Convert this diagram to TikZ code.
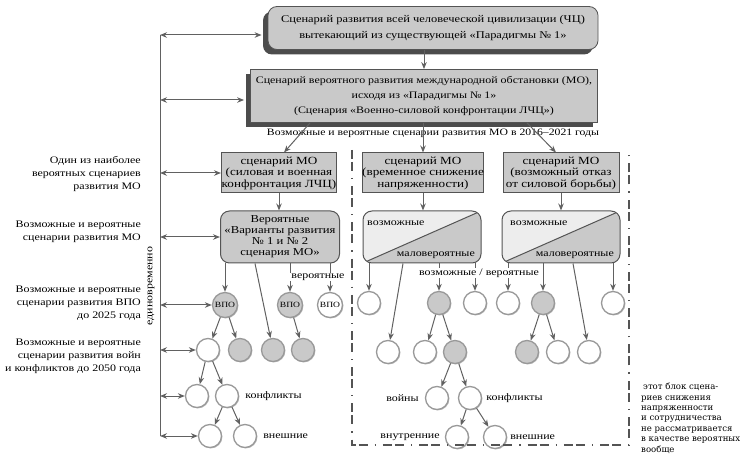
\documentclass[tikz,border=0pt]{standalone}
\usepackage{fontspec}
\setmainfont{Liberation Serif}[FakeStretch=1.2]
\newfontfamily\notefont{DejaVu Serif}
\usetikzlibrary{arrows.meta,shadows}

\definecolor{boxfill}{gray}{0.79}
\definecolor{lightfill}{gray}{0.93}
\definecolor{edge}{gray}{0.33}
\definecolor{shade}{gray}{0.3}
\definecolor{ring}{gray}{0.6}
\definecolor{arrowc}{gray}{0.38}

\begin{document}
\begin{tikzpicture}[x=1bp, y=-1bp,
  arr/.style={draw=arrowc, line width=1bp, -{Stealth[length=7bp,width=5.5bp]}},
  darr/.style={draw=arrowc, line width=1bp,
    {Stealth[length=7bp,width=5.5bp]}-{Stealth[length=7bp,width=5.5bp]}},
  bigbox/.style={draw=edge, fill=boxfill, line width=0.8bp, align=center, inner sep=0pt,
    drop shadow={shadow xshift=-5bp, shadow yshift=-5bp, fill=shade, opacity=1},
    font=\fontsize{10.4}{17}\selectfont},
  mobox/.style={draw=edge, fill=boxfill, line width=1bp, align=center, inner sep=0pt,
    minimum height=40bp, font=\fontsize{11}{11.5}\selectfont},
  varbox/.style={draw=edge, fill=boxfill, line width=1bp, rounded corners=9bp, align=center,
    minimum width=119bp, minimum height=52bp, inner sep=0pt, font=\fontsize{10.6}{11}\selectfont},
  splitbox/.style={draw=edge, fill=lightfill, line width=1bp, rounded corners=9bp,
    minimum width=118bp, minimum height=52bp, inner sep=0pt,
    path picture={
      \fill[boxfill] (path picture bounding box.south west)
        -- (path picture bounding box.north east)
        -- (path picture bounding box.south east) -- cycle;
      \draw[edge, line width=1bp] (path picture bounding box.south west)
        -- (path picture bounding box.north east);}},
  wc/.style={circle, draw=ring, fill=white, line width=1.3bp, minimum size=23bp, inner sep=0pt,
    drop shadow={shadow xshift=0.9bp, shadow yshift=-0.9bp, fill=gray!55, opacity=1}},
  vpo/.style={wc, minimum size=25bp, font=\fontsize{8}{8}\selectfont},
  lbl/.style={inner sep=1bp, font=\fontsize{10}{11}\selectfont},
  side/.style={anchor=east, align=right, inner sep=0pt, font=\fontsize{10}{13}\selectfont},
  fence/.style={draw=edge, line width=1.2bp,
    dash pattern=on 9bp off 3bp on 9bp off 7bp on 1.2bp off 7bp}]

  \useasboundingbox (0,0) rectangle (750,460);

  % civilisation and MO scenarios
  \node[bigbox, rounded corners=9bp, minimum width=330bp, minimum height=43bp] (chc) at (433,28)
    {Сценарий развития всей человеческой цивилизации (ЧЦ)\\
     вытекающий из существующей «Парадигмы № 1»};
  \node[bigbox, minimum width=347bp, minimum height=53bp, font=\fontsize{10}{15}\selectfont]
    (mo) at (424,96)
    {Сценарий вероятного развития международной обстановки (МО),\\
     исходя из «Парадигмы № 1»\\
     (Сценария «Военно-силовой конфронтации ЛЧЦ»)};
  \draw[arr] (mo.north |- chc.south) -- (mo.north);
  \node[lbl, font=\fontsize{9.8}{11}\selectfont] (period) at (433,133)
    {Возможные и вероятные сценарии развития МО в 2016–2021 годы};

  % three MO scenarios
  \node[mobox, minimum width=115bp] (sc1) at (279,173) {сценарий МО\\(силовая и военная\\конфронтация ЛЧЦ)};
  \node[mobox, minimum width=120bp] (sc2) at (423,173) {сценарий МО\\(временное снижение\\напряженности)};
  \node[mobox, minimum width=116bp] (sc3) at (561,173) {сценарий МО\\(возможный отказ\\от силовой борьбы)};
  \draw[arr] ([xshift=-114bp]mo.south) -- ([xshift=5bp]sc1.north);
  \draw[arr] (mo.south -| sc2.north) -- (sc2.north);
  \draw[arr] ([xshift=103bp]mo.south) -- ([xshift=-5bp]sc3.north);

  \node[varbox] (var) at (280,237) {Вероятные\\«Варианты развития\\№ 1 и № 2\\сценария МО»};
  \node[splitbox] (tmp) at (422,237) {};
  \node[splitbox] (ref) at (561,237) {};
  \node[lbl, anchor=west] (tmp-hi) at (366,223) {возможные};
  \node[lbl, anchor=east] (tmp-lo) at (476,255) {маловероятные};
  \node[lbl, anchor=west] (ref-hi) at (509,223) {возможные};
  \node[lbl, anchor=east] (ref-lo) at (615,255) {маловероятные};
  \foreach \b in {1,2,3}
    \draw[arr] (sc\b.south) -- (sc\b.south |- var.north);

  % circles
  \foreach \n/\x/\f in {vpo1/225/boxfill, vpo2/290/boxfill, vpo3/330/white}
    \node[vpo, fill=\f] (\n) at (\x,305) {ВПО};
  \foreach \n/\x/\y/\f in {
      m1/369/303/white, m2/439/303/boxfill, m3/475/303/white, m4/508/303/white,
      m5/543/303/boxfill, m6/613/303/white,
      a1/208/350/white, a2/240/350/boxfill, a3/273/350/boxfill, a4/303/350/boxfill,
      b1/388/352/white, b2/425/352/white, b3/455/352/boxfill,
      b4/527/352/boxfill, b5/558/352/white, b6/589/352/white,
      c1/197/396/white, c2/227/396/white, d1/437/398/white, d2/470/398/white,
      e1/210/436/white, e2/245/436/white, f1/457/437/white, f2/495/437/white}
    \node[wc, fill=\f] (\n) at (\x,\y) {};

  \foreach \c in {vpo1, vpo2, vpo3} \draw[arr] (var.south -| \c) -- (\c);
  \foreach \c in {m1, m2, m3} \draw[arr] (tmp.south -| \c) -- (\c);
  \foreach \c in {m4, m5, m6} \draw[arr] (ref.south -| \c) -- (\c);
  \draw[arr] ([xshift=-25bp]var.south) -- (a3);
  \draw[arr] ([xshift=-19bp]tmp.south) -- (b1);
  \draw[arr] ([xshift=12bp]ref.south) -- (b6);
  \foreach \p/\c in {vpo1/a1, vpo1/a2, vpo2/a4, a1/c1, a1/c2, c2/e1, c2/e2,
                     m2/b2, m2/b3, m5/b4, m5/b5, b3/d1, b3/d2, d2/f1, d2/f2}
    \draw[arr] (\p) -- (\c);

  \node[lbl, fill=white] (prob) at (318,277) {вероятные};
  \node[lbl, fill=white] (both) at (479,273) {возможные / вероятные};
  \node[lbl, anchor=west] (conf1) at ([xshift=5bp]c2.east) {конфликты};
  \node[lbl, anchor=west] (ext1) at ([xshift=5bp]e2.east) {внешние};
  \node[lbl, anchor=east] (wars) at ([xshift=-5bp]d1.west) {войны};
  \node[lbl, anchor=west] (conf2) at ([xshift=3bp]d2.east) {конфликты};
  \node[lbl, anchor=east] (int2) at ([xshift=-4bp]f1.west) {внутренние};
  \node[lbl, anchor=west] (ext2) at ([xshift=2bp]f2.east) {внешние};

  % left column
  \coordinate (spine) at (160,35);
  \coordinate (foot) at (160,436);
  \draw[draw=arrowc, line width=1bp] (spine) -- (foot);
  \draw[darr] (spine) -- ([xshift=-6bp]spine -| chc.west);
  \draw[darr] ([yshift=-4bp]mo.west -| spine) -- ([shift={(-6bp,-4bp)}]mo.west);
  \foreach \t in {sc1, var, vpo1, a1, c1, e1}
    \draw[darr] (\t.west -| spine) -- (\t.west);
  \node[lbl, rotate=90] (once) at (151,286) {единовременно};

  \node[side] (l1) at (141,174) {Один из наиболее\\вероятных сценариев\\развития МО};
  \node[side] (l2) at (141,232) {Возможные и вероятные\\сценарии развития МО};
  \node[side] (l3) at (141,303) {Возможные и вероятные\\сценарии развития ВПО\\до 2025 года};
  \node[side] (l4) at (141,356) {Возможные и вероятные\\сценарии развития войн\\и конфликтов до 2050 года};

  % excluded block
  \draw[fence] (352,150) -- (352,445) -- (629,445) -- (629,150);
  \node[anchor=north west, align=left, inner sep=0pt,
        font=\notefont\fontsize{8.6}{10.4}\selectfont] (skip) at (641,383)
    {\hspace{2bp}этот блок сцена-\\риев снижения\\напряженности\\и сотрудничества\\
     не рассматривается\\в качестве вероятных\\вообще};
\end{tikzpicture}
\end{document}
